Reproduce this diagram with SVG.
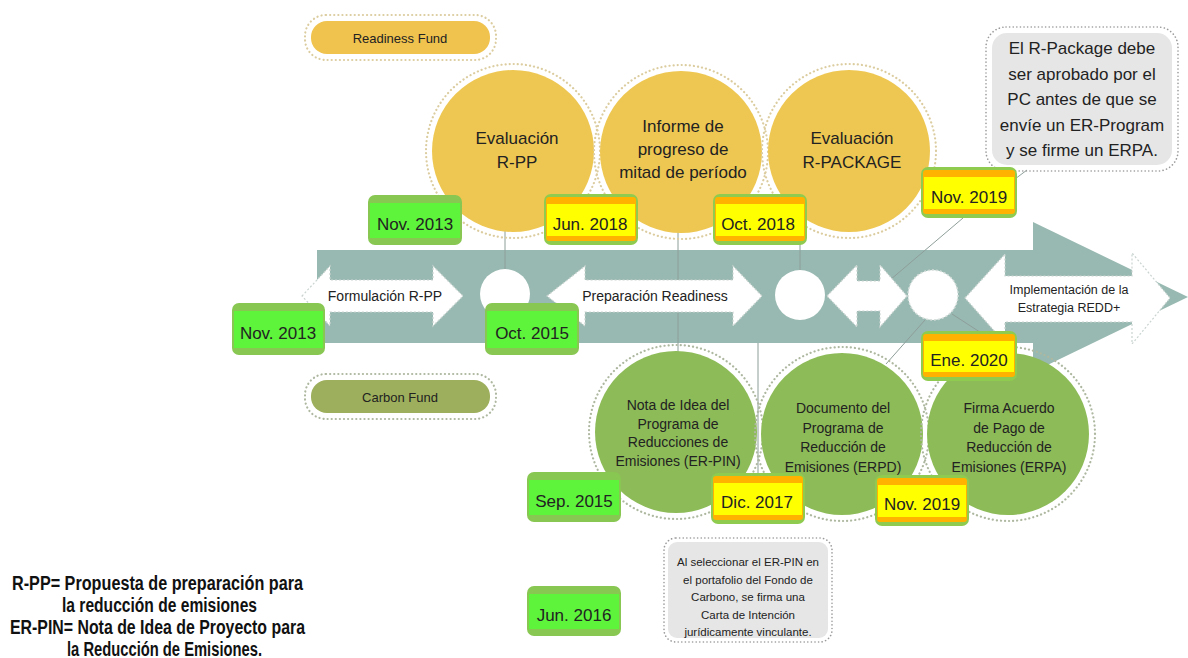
<svg xmlns="http://www.w3.org/2000/svg" width="1188" height="658" viewBox="0 0 1188 658">
<defs>
<style>
.t{font-family:"Liberation Sans",Arial,sans-serif;fill:#222;text-anchor:middle}
.ycirc{fill:#EEC752}
.gcirc{fill:#8DBB58}
.yring{fill:none;stroke:#DCCDA0;stroke-width:2.2;stroke-dasharray:0.1 4;stroke-linecap:round}
.gring{fill:none;stroke:#AEB8A0;stroke-width:2.2;stroke-dasharray:0.1 4;stroke-linecap:round}
.warrow{fill:#fff;stroke:#C9D3CF;stroke-width:1.2;stroke-dasharray:2 2}
.conn{stroke:#8E9E9A;stroke-width:1;fill:none}
.gout{fill:#88C752}
.gin{fill:#5DF43B}
.yout{fill:#8FCB4F}
.yor{fill:#FFB300}
.yin{fill:#FFFF00}
.dt{font-family:"Liberation Sans",Arial,sans-serif;font-size:17px;fill:#222;text-anchor:middle}
.ct{font-size:17px}
.gt{font-size:14px}
.note{fill:#E6E6E6}
.nring{fill:none;stroke:#9A9A9A;stroke-width:1.6;stroke-dasharray:0.1 3.5;stroke-linecap:round}
.leg{font-family:"Liberation Sans",Arial,sans-serif;font-weight:bold;font-size:19.5px;fill:#111;text-anchor:middle}
</style>
</defs>
<rect width="1188" height="658" fill="#fff"/>

<g id="band">
<rect x="317" y="250" width="716" height="93" fill="#98B9B1"/>
<polygon points="1033,222 1188,297 1033,372" fill="#98B9B1"/>
</g>

<g id="connectors">
<line class="conn" x1="505" y1="230" x2="505" y2="270"/>
<line class="conn" x1="678" y1="232" x2="678" y2="353"/>
<line class="conn" x1="800" y1="243" x2="800" y2="272"/>
<line class="conn" x1="758" y1="343" x2="758" y2="473"/>
<line class="conn" x1="963" y1="218" x2="890" y2="280"/>
<line class="conn" x1="925" y1="320" x2="886" y2="364"/>
<line class="conn" x1="952" y1="314" x2="986" y2="336"/>
<line class="conn" x1="1027" y1="170" x2="1015" y2="179"/>
</g>

<g id="readiness-fund">
<rect x="305" y="15" width="191" height="45" rx="21" class="yring"/>
<rect x="311" y="21" width="179" height="33" rx="16" fill="#F0C34F"/>
<text class="t" x="400" y="43" font-size="13">Readiness Fund</text>
</g>

<g id="carbon-fund">
<rect x="305" y="374" width="191" height="45" rx="21" class="gring"/>
<rect x="311" y="380" width="179" height="33" rx="16" fill="#9DAF5C"/>
<text class="t" x="400" y="402" font-size="13">Carbon Fund</text>
</g>

<g id="eval-rpp">
<circle cx="513" cy="151" r="87" class="yring"/>
<circle cx="513" cy="151" r="81" class="ycirc"/>
<text class="t ct" x="517" y="144">Evaluación</text>
<text class="t ct" x="517" y="168">R-PP</text>
</g>

<g id="informe">
<circle cx="681" cy="152" r="87" class="yring"/>
<circle cx="681" cy="152" r="81" class="ycirc"/>
<text class="t ct" x="683" y="132">Informe de</text>
<text class="t ct" x="683" y="155">progreso de</text>
<text class="t ct" x="683" y="178">mitad de período</text>
</g>

<g id="eval-rpackage">
<circle cx="849" cy="151" r="87" class="yring"/>
<circle cx="849" cy="151" r="81" class="ycirc"/>
<text class="t ct" x="852" y="144">Evaluación</text>
<text class="t ct" x="852" y="168">R-PACKAGE</text>
</g>

<g id="note-rpackage">
<rect x="986" y="27" width="192" height="144" rx="20" class="nring"/>
<rect x="992" y="33" width="180" height="132" rx="15" class="note"/>
<text class="t" x="1082" y="54" font-size="17">El R-Package debe</text>
<text class="t" x="1082" y="79.5" font-size="17">ser aprobado por el</text>
<text class="t" x="1082" y="105" font-size="17">PC antes de que se</text>
<text class="t" x="1082" y="130.5" font-size="17">envíe un ER-Program</text>
<text class="t" x="1082" y="156" font-size="17">y se firme un ERPA.</text>
</g>

<g id="formulacion">
<path class="warrow" d="M302,296 L330,266 L330,280 L433,280 L433,266 L463,296 L433,326 L433,312 L330,312 L330,326 Z"/>
<text class="t" x="385" y="301" font-size="14">Formulación R-PP</text>
</g>

<g id="hito-1">
<circle cx="505" cy="294" r="25" fill="#fff"/>
</g>

<g id="preparacion">
<path class="warrow" d="M547,296 L585,266 L585,280 L733,280 L733,266 L762,296 L733,326 L733,312 L585,312 L585,326 Z"/>
<text class="t" x="655" y="301" font-size="14">Preparación Readiness</text>
</g>

<g id="hito-2">
<circle cx="800" cy="295" r="25" fill="#fff"/>
</g>

<g id="flecha-corta">
<path class="warrow" d="M827,296 L857,265 L857,281 L880,281 L880,265 L907,296 L880,327 L880,311 L857,311 L857,327 Z"/>
</g>

<g id="hito-3">
<circle cx="933" cy="295" r="25" fill="#fff" stroke="#D5DDDA" stroke-width="1.5" stroke-dasharray="2 2"/>
</g>

<g id="implementacion">
<path class="warrow" d="M965,298 L1005,254 L1005,276 L1132,276 L1132,253 L1170,298 L1132,344 L1132,322 L1005,322 L1005,343 Z"/>
<text class="t" x="1069" y="294" font-size="12.5">Implementación de la</text>
<text class="t" x="1069" y="312" font-size="12.5">Estrategia REDD+</text>
</g>

<g id="er-pin">
<circle cx="676" cy="432" r="87" class="gring"/>
<circle cx="676" cy="432" r="81" class="gcirc"/>
<text class="t gt" x="678" y="410">Nota de Idea del</text>
<text class="t gt" x="678" y="428.5">Programa de</text>
<text class="t gt" x="678" y="447">Reducciones de</text>
<text class="t gt" x="678" y="465.5">Emisiones (ER-PIN)</text>
</g>

<g id="erpd">
<circle cx="842" cy="434" r="87" class="gring"/>
<circle cx="842" cy="434" r="81" class="gcirc"/>
<text class="t gt" x="843" y="413">Documento del</text>
<text class="t gt" x="843" y="432.5">Programa de</text>
<text class="t gt" x="843" y="452">Reducción de</text>
<text class="t gt" x="843" y="471.5">Emisiones (ERPD)</text>
</g>

<g id="erpa">
<circle cx="1008" cy="434" r="87" class="gring"/>
<circle cx="1008" cy="434" r="81" class="gcirc"/>
<text class="t gt" x="1009" y="413">Firma Acuerdo</text>
<text class="t gt" x="1009" y="432.5">de Pago de</text>
<text class="t gt" x="1009" y="452">Reducción de</text>
<text class="t gt" x="1009" y="471.5">Emisiones (ERPA)</text>
</g>

<g id="note-erpin">
<rect x="664" y="538" width="168" height="104" rx="12" class="nring"/>
<rect x="668" y="542" width="160" height="96" rx="9" class="note"/>
<text class="t" x="748" y="566" font-size="11.5">Al seleccionar el ER-PIN en</text>
<text class="t" x="748" y="583.5" font-size="11.5">el portafolio del Fondo de</text>
<text class="t" x="748" y="601" font-size="11.5">Carbono, se firma una</text>
<text class="t" x="748" y="618.5" font-size="11.5">Carta de Intención</text>
<text class="t" x="748" y="636" font-size="11.5">jurídicamente vinculante.</text>
</g>

<g id="d-nov2013-a">
<rect class="gout" x="368" y="195" width="94" height="50" rx="7"/>
<rect class="gin" x="370" y="203" width="90" height="35"/>
<text class="dt" x="415" y="230">Nov. 2013</text>
</g>
<g id="d-nov2013-b">
<rect class="gout" x="232" y="303" width="93" height="52" rx="7"/>
<rect class="gin" x="234" y="311" width="89" height="37"/>
<text class="dt" x="278" y="339">Nov. 2013</text>
</g>
<g id="d-oct2015">
<rect class="gout" x="485" y="303" width="94" height="52" rx="7"/>
<rect class="gin" x="487" y="311" width="90" height="37"/>
<text class="dt" x="532" y="339">Oct. 2015</text>
</g>
<g id="d-sep2015">
<rect class="gout" x="527" y="472" width="94" height="50" rx="7"/>
<rect class="gin" x="529" y="480" width="90" height="35"/>
<text class="dt" x="574" y="507">Sep. 2015</text>
</g>
<g id="d-jun2016">
<rect class="gout" x="527" y="586" width="94" height="50" rx="7"/>
<rect class="gin" x="529" y="594" width="90" height="35"/>
<text class="dt" x="574" y="621">Jun. 2016</text>
</g>

<g id="d-jun2018">
<rect class="yout" x="544" y="194" width="94" height="51" rx="7"/>
<rect class="yor" x="546" y="197" width="90" height="44" rx="3"/>
<rect class="yin" x="547" y="204" width="88" height="32"/>
<text class="dt" x="590" y="230">Jun. 2018</text>
</g>
<g id="d-oct2018">
<rect class="yout" x="713" y="194" width="94" height="51" rx="7"/>
<rect class="yor" x="715" y="197" width="90" height="44" rx="3"/>
<rect class="yin" x="716" y="204" width="88" height="32"/>
<text class="dt" x="758" y="230">Oct. 2018</text>
</g>
<g id="d-nov2019-a">
<rect class="yout" x="921" y="167" width="96" height="51" rx="7"/>
<rect class="yor" x="923" y="170" width="92" height="44" rx="3"/>
<rect class="yin" x="924" y="177" width="90" height="32"/>
<text class="dt" x="969" y="203">Nov. 2019</text>
</g>
<g id="d-ene2020">
<rect class="yout" x="921" y="331" width="96" height="50" rx="7"/>
<rect class="yor" x="923" y="334" width="92" height="43" rx="3"/>
<rect class="yin" x="924" y="341" width="90" height="31"/>
<text class="dt" x="969" y="366">Ene. 2020</text>
</g>
<g id="d-dic2017">
<rect class="yout" x="711" y="473" width="94" height="51" rx="7"/>
<rect class="yor" x="713" y="476" width="90" height="44" rx="3"/>
<rect class="yin" x="714" y="483" width="88" height="32"/>
<text class="dt" x="757" y="508">Dic. 2017</text>
</g>
<g id="d-nov2019-b">
<rect class="yout" x="875" y="475" width="94" height="51" rx="7"/>
<rect class="yor" x="877" y="478" width="90" height="44" rx="3"/>
<rect class="yin" x="878" y="485" width="88" height="32"/>
<text class="dt" x="922" y="510">Nov. 2019</text>
</g>

<g id="legend">
<text class="leg" x="157.5" y="590" textLength="291" lengthAdjust="spacingAndGlyphs">R-PP= Propuesta de preparación para</text>
<text class="leg" x="159.5" y="612" textLength="195" lengthAdjust="spacingAndGlyphs">la reducción de emisiones</text>
<text class="leg" x="157.5" y="634" textLength="295" lengthAdjust="spacingAndGlyphs">ER-PIN= Nota de Idea de Proyecto para</text>
<text class="leg" x="164.5" y="656" textLength="195" lengthAdjust="spacingAndGlyphs">la Reducción de Emisiones.</text>
</g>
</svg>
